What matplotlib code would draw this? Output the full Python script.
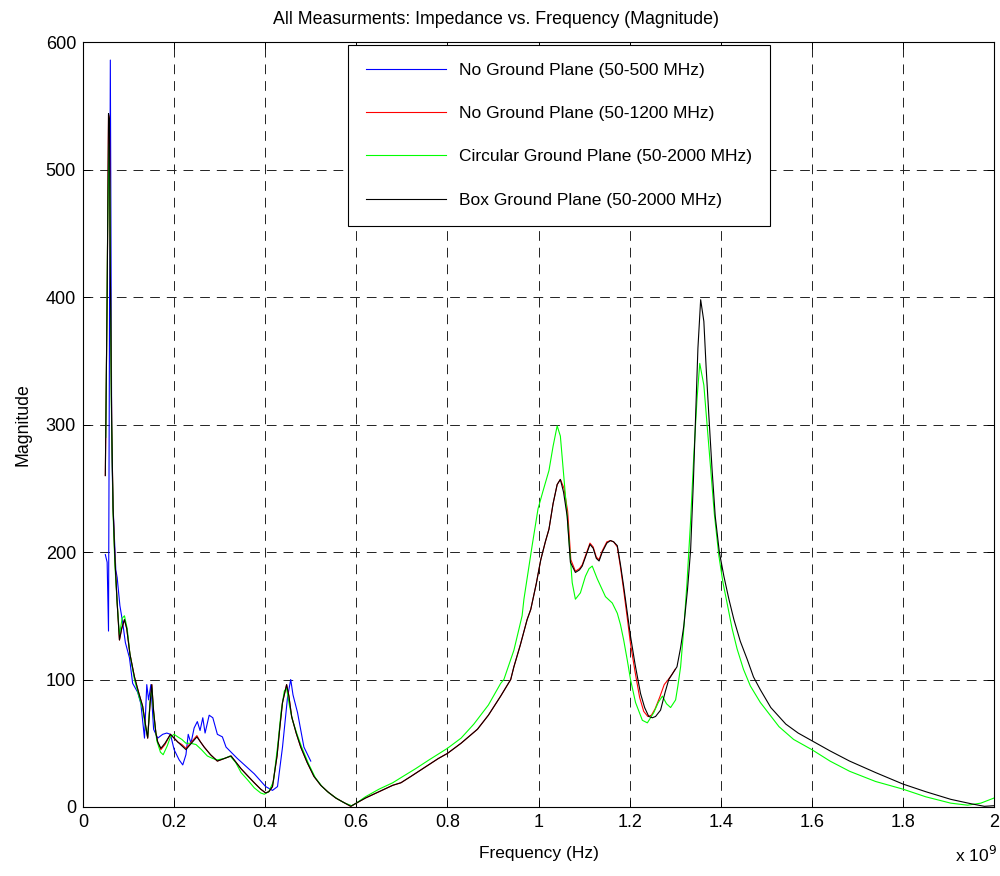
import matplotlib
matplotlib.use('Agg')
import matplotlib.pyplot as plt
from matplotlib.ticker import FuncFormatter

plt.rcParams['font.family'] = ['Liberation Sans', 'DejaVu Sans']
plt.rcParams['lines.scale_dashes'] = False

# frequencies in GHz, magnitudes
blue_f = [0.049, 0.053, 0.056, 0.058, 0.060, 0.063, 0.065, 0.066, 0.072, 0.075, 0.081, 0.087,
          0.093, 0.102, 0.109, 0.120, 0.127, 0.135, 0.140, 0.144, 0.149, 0.155, 0.164, 0.175,
          0.184, 0.192, 0.200, 0.211, 0.219, 0.226, 0.231, 0.237, 0.244, 0.251, 0.257, 0.263,
          0.268, 0.277, 0.285, 0.295, 0.306, 0.314, 0.339, 0.376, 0.401, 0.416, 0.427, 0.438,
          0.449, 0.456, 0.461, 0.471, 0.485, 0.500]
blue_v = [198, 192, 138, 360, 586, 289, 250, 236, 186, 180, 158, 145,
          129, 117, 97, 90, 81, 54, 96, 84, 96, 61, 54, 57,
          58, 57, 45, 37, 33, 41, 57, 50, 62, 67, 60, 70,
          58, 72, 70, 57, 55, 47, 38, 26, 16, 13, 16, 47,
          86, 100, 88, 74, 47, 36]

red_f = [0.049, 0.053, 0.056, 0.058, 0.060, 0.063, 0.066, 0.070, 0.075, 0.080, 0.085, 0.091,
         0.096, 0.103, 0.113, 0.122, 0.131, 0.137, 0.142, 0.147, 0.151, 0.155, 0.160, 0.164,
         0.171, 0.180, 0.192, 0.200, 0.208, 0.217, 0.226, 0.238, 0.250, 0.258, 0.266, 0.280,
         0.295, 0.310, 0.325, 0.336, 0.347, 0.360, 0.376, 0.390, 0.401, 0.408, 0.416, 0.426,
         0.432, 0.438, 0.447, 0.452, 0.458, 0.468, 0.478, 0.492, 0.507, 0.522, 0.537, 0.555,
         0.570, 0.588, 0.600, 0.620, 0.650, 0.680, 0.698, 0.720, 0.750, 0.780, 0.800, 0.830,
         0.866, 0.890, 0.917, 0.939, 0.946, 0.960, 0.975, 0.983, 0.995, 1.005, 1.015, 1.023,
         1.032, 1.041, 1.048, 1.056, 1.064, 1.071, 1.081, 1.090, 1.096, 1.105, 1.113, 1.120,
         1.127, 1.133, 1.140, 1.150, 1.158, 1.165, 1.173, 1.180, 1.187, 1.195, 1.202, 1.212,
         1.222, 1.231, 1.240, 1.248, 1.256, 1.266, 1.276, 1.285, 1.293, 1.300]
red_v = [260, 400, 543, 540, 420, 300, 235, 195, 160, 131, 140, 147,
         140, 120, 102, 90, 79, 65, 54, 80, 96, 75, 58, 51,
         45, 49, 57, 54, 51, 49, 46, 51, 56, 51, 47, 41,
         36, 38, 40, 35, 30, 25, 19, 14, 11, 12, 16, 40,
         62, 82, 96, 87, 71, 58, 47, 35, 24, 17, 12, 7,
         4, 0.5, 3, 7, 12, 17, 19, 24, 31, 38, 42, 50,
         61, 72, 87, 100, 110, 127, 147, 155, 175, 194, 208, 218,
         238, 253, 257, 250, 232, 194, 185, 187, 190, 199, 207, 204,
         196, 194, 201, 208, 209, 208, 204, 188, 170, 148, 128, 106,
         86, 75, 71, 72, 77, 86, 96, 100, 104, 108]

black_f = [0.049, 0.053, 0.056, 0.058, 0.060, 0.063, 0.066, 0.070, 0.075, 0.080, 0.085, 0.091,
           0.096, 0.103, 0.113, 0.122, 0.131, 0.137, 0.142, 0.147, 0.151, 0.155, 0.160, 0.164,
           0.171, 0.180, 0.192, 0.200, 0.208, 0.217, 0.226, 0.238, 0.250, 0.258, 0.266, 0.280,
           0.295, 0.310, 0.325, 0.336, 0.347, 0.360, 0.376, 0.390, 0.401, 0.408, 0.416, 0.426,
           0.432, 0.438, 0.447, 0.452, 0.458, 0.468, 0.478, 0.492, 0.507, 0.522, 0.537, 0.555,
           0.570, 0.588, 0.600, 0.620, 0.650, 0.680, 0.698, 0.720, 0.750, 0.780, 0.800, 0.830,
           0.866, 0.890, 0.917, 0.939, 0.946, 0.960, 0.975, 0.983, 0.995, 1.005, 1.015, 1.023,
           1.032, 1.041, 1.048, 1.055, 1.063, 1.070, 1.081, 1.090, 1.096, 1.105, 1.113, 1.120,
           1.127, 1.133, 1.140, 1.150, 1.158, 1.165, 1.173, 1.180, 1.187, 1.195, 1.202, 1.212,
           1.224, 1.233, 1.242, 1.250, 1.257, 1.268, 1.278, 1.286, 1.295, 1.304, 1.312, 1.319,
           1.327, 1.334, 1.340, 1.345, 1.350, 1.356, 1.363, 1.368, 1.374, 1.381, 1.388, 1.397,
           1.407, 1.418, 1.429, 1.443, 1.458, 1.472, 1.487, 1.510, 1.543, 1.570, 1.600, 1.640,
           1.683, 1.740, 1.800, 1.850, 1.905, 1.950, 1.979, 2.000]
black_v = [260, 400, 544, 540, 420, 300, 235, 195, 160, 131, 140, 147,
           140, 120, 102, 90, 79, 65, 54, 80, 96, 75, 58, 51,
           46, 50, 57, 54, 51, 48, 45, 50, 55, 51, 47, 41,
           36, 38, 40, 35, 30, 25, 19, 14, 11, 12, 16, 40,
           62, 82, 96, 87, 71, 58, 47, 35, 24, 17, 12, 7,
           4, 0.5, 3, 7, 12, 17, 19, 24, 31, 38, 42, 50,
           61, 72, 87, 100, 110, 127, 147, 155, 175, 194, 208, 218,
           238, 253, 257, 247, 228, 192, 184, 186, 189, 198, 206, 203,
           195, 193, 200, 207, 209, 208, 205, 190, 173, 152, 134, 112,
           89, 78, 71, 70, 71, 76, 90, 100, 105, 110, 125, 142,
           170, 202, 255, 307, 360, 398, 381, 345, 307, 265, 228, 200,
           181, 163, 147, 130, 116, 102, 92, 78, 65, 58, 52, 44,
           36, 27, 18, 12, 6, 2.5, 0.5, 1]

green_f = [0.050, 0.054, 0.057, 0.059, 0.062, 0.066, 0.070, 0.075, 0.080, 0.086, 0.091, 0.097,
           0.103, 0.113, 0.122, 0.131, 0.137, 0.142, 0.147, 0.151, 0.156, 0.162, 0.170, 0.176,
           0.185, 0.192, 0.200, 0.208, 0.217, 0.226, 0.236, 0.248, 0.260, 0.273, 0.285, 0.295,
           0.310, 0.323, 0.335, 0.347, 0.362, 0.376, 0.390, 0.398, 0.408, 0.418, 0.428, 0.435,
           0.442, 0.447, 0.453, 0.460, 0.470, 0.480, 0.495, 0.510, 0.525, 0.540, 0.560, 0.575,
           0.590, 0.600, 0.620, 0.650, 0.680, 0.698, 0.730, 0.760, 0.800, 0.830, 0.858, 0.890,
           0.917, 0.924, 0.946, 0.964, 0.968, 0.986, 0.999, 1.010, 1.023, 1.032, 1.041, 1.048,
           1.055, 1.063, 1.069, 1.074, 1.081, 1.092, 1.103, 1.111, 1.118, 1.129, 1.147, 1.162,
           1.173, 1.180, 1.187, 1.195, 1.202, 1.213, 1.228, 1.239, 1.253, 1.263, 1.272, 1.281,
           1.290, 1.301, 1.306, 1.312, 1.319, 1.326, 1.334, 1.341, 1.348, 1.354, 1.363, 1.370,
           1.377, 1.386, 1.396, 1.405, 1.414, 1.425, 1.436, 1.450, 1.465, 1.487, 1.528, 1.560,
           1.600, 1.640, 1.683, 1.740, 1.800, 1.850, 1.905, 1.942, 1.971, 2.000]
green_v = [290, 450, 520, 480, 320, 230, 190, 160, 135, 148, 150, 140,
           120, 100, 88, 77, 63, 55, 82, 93, 70, 52, 43, 41,
           48, 55, 57, 55, 53, 50, 50, 49, 45, 40, 38, 37,
           38, 40, 35, 27, 21, 15, 11, 10, 12, 20, 50, 75,
           91, 93, 80, 68, 57, 47, 34, 23, 16, 11, 6, 3,
           1, 3, 8, 14, 19, 23, 30, 37, 46, 54, 65, 80,
           97, 100, 123, 150, 163, 205, 234, 248, 264, 283, 299, 291,
           262, 228, 200, 176, 163, 168, 181, 187, 189, 179, 165, 160,
           152, 143, 131, 115, 100, 82, 68, 66, 74, 82, 87, 81,
           78, 84, 95, 110, 140, 176, 225, 276, 320, 348, 331, 300,
           268, 230, 197, 176, 160, 140, 124, 108, 95, 82, 63, 53,
           45, 36, 28, 20, 14, 8, 3, 1.4, 3, 7]

labels = ['No Ground Plane (50-500 MHz)', 'No Ground Plane (50-1200 MHz)',
          'Circular Ground Plane (50-2000 MHz)', 'Box Ground Plane (50-2000 MHz)']
x_ticks = [0, 0.2, 0.4, 0.6, 0.8, 1.0, 1.2, 1.4, 1.6, 1.8, 2.0]
y_ticks = [0, 100, 200, 300, 400, 500, 600]

fig = plt.figure(figsize=(10, 8.76), dpi=100)
ax = fig.add_axes([0.083, 0.0788, 0.911, 0.873])

ghz = 1e9
ax.plot([f * ghz for f in blue_f], blue_v, color='#0000ff', lw=0.8, label=labels[0])
ax.plot([f * ghz for f in red_f], red_v, color='#ff0000', lw=0.8, label=labels[1])
ax.plot([f * ghz for f in green_f], green_v, color='#00ff00', lw=0.8, label=labels[2])
ax.plot([f * ghz for f in black_f], black_v, color='#000000', lw=0.8, label=labels[3])

ax.set_xlim(0, 2 * ghz)
ax.set_ylim(0, 600)
ax.set_xticks([t * ghz for t in x_ticks])
ax.set_yticks(y_ticks)
ax.xaxis.set_major_formatter(FuncFormatter(lambda v, p: '%g' % (v / ghz)))
ax.tick_params(direction='in', length=5, width=0.7, labelsize=13,
               top=True, right=True, pad=5)
ax.grid(True, color='#222222', linestyle=(0, (7, 5)), linewidth=0.7)
for s in ax.spines.values():
    s.set_linewidth(0.8)

# title sits a bit left of the axes centre in the original
fig.text(0.496, 1 - 19 / 876, 'All Measurments: Impedance vs. Frequency (Magnitude)',
         fontsize=12.8, ha='center', va='center')
ax.set_xlabel('Frequency (Hz)', fontsize=12.5, labelpad=11)
ax.set_ylabel('Magnitude', fontsize=12.8)
ax.yaxis.set_label_coords(-0.057, 0.5)
fig.text(0.955, 0.016, r'x 10$^{9}$', fontsize=12.5)

leg = ax.legend(loc='upper left', bbox_to_anchor=(0.291, 0.997), fontsize=12.5,
                fancybox=False, framealpha=1, edgecolor='black', handlelength=4.6,
                handletextpad=0.75, labelspacing=1.62, borderpad=1.05, borderaxespad=0)
leg.get_frame().set_linewidth(0.8)

fig.savefig('out.png', dpi=100)
